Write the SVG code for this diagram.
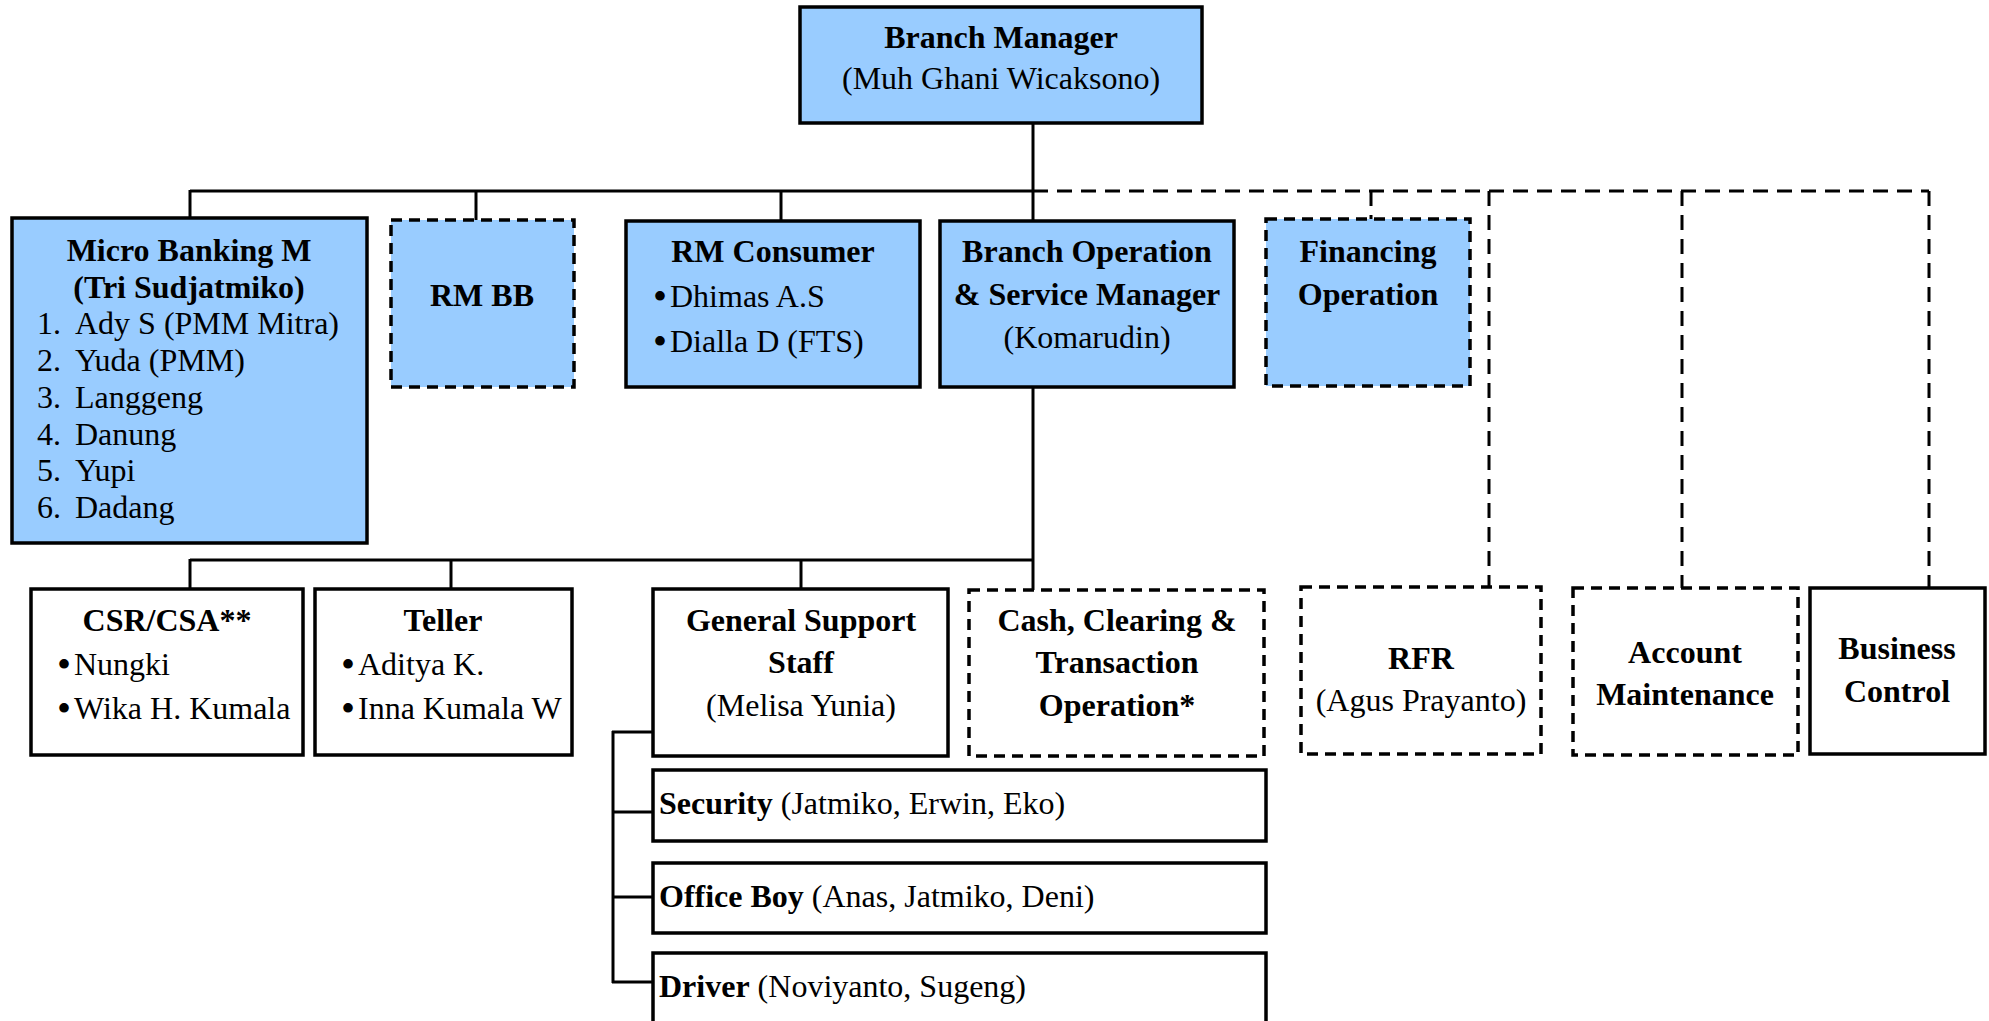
<svg xmlns="http://www.w3.org/2000/svg" width="1989" height="1021" viewBox="0 0 1989 1021">
  <style>
    text { font-family: "Liberation Serif", "Times New Roman", serif; font-size: 32px; fill: #000; }
    .b { font-weight: bold; }
    .c { text-anchor: middle; }
    .bul { font-size: 40px; }
    .box { stroke: #000; stroke-width: 3.5; }
    .blue { fill: #99CCFF; }
    .white { fill: #FFFFFF; }
    .dash { stroke-dasharray: 11 7; }
    .line { stroke: #000; stroke-width: 3; fill: none; }
    .dline { stroke: #000; stroke-width: 3; fill: none; stroke-dasharray: 15 9; }
  </style>

  <!-- connectors -->
  <g id="connectors">
    <!-- top tier: solid reporting lines -->
    <line class="line" x1="1033" y1="123" x2="1033" y2="221"/>
    <line class="line" x1="190" y1="191" x2="1033" y2="191"/>
    <line class="line" x1="190" y1="190" x2="190" y2="218"/>
    <line class="line" x1="476" y1="190" x2="476" y2="220"/>
    <line class="line" x1="781" y1="190" x2="781" y2="221"/>
    <!-- top tier: dotted (functional) lines -->
    <line class="dline" x1="1033" y1="191" x2="1929" y2="191"/>
    <line class="dline" x1="1371" y1="191" x2="1371" y2="219" stroke-dasharray="12 6"/>
    <line class="dline" x1="1489" y1="191" x2="1489" y2="587"/>
    <line class="dline" x1="1682" y1="191" x2="1682" y2="588"/>
    <line class="dline" x1="1929" y1="191" x2="1929" y2="588"/>
    <!-- second tier under operation manager -->
    <line class="line" x1="1033" y1="387" x2="1033" y2="590"/>
    <line class="line" x1="190" y1="560" x2="1033" y2="560"/>
    <line class="line" x1="190" y1="559" x2="190" y2="589"/>
    <line class="line" x1="451" y1="559" x2="451" y2="589"/>
    <line class="line" x1="801" y1="559" x2="801" y2="589"/>
    <!-- general support bracket -->
    <line class="line" x1="613" y1="731" x2="613" y2="983"/>
    <line class="line" x1="612" y1="732" x2="653" y2="732"/>
    <line class="line" x1="612" y1="812" x2="653" y2="812"/>
    <line class="line" x1="612" y1="897" x2="653" y2="897"/>
    <line class="line" x1="612" y1="982" x2="653" y2="982"/>
  </g>

  <!-- Branch Manager -->
  <g id="branch-manager">
    <rect class="box blue" x="800" y="7" width="402" height="116"/>
    <text class="b c" x="1001" y="48">Branch Manager</text>
    <text class="c" x="1001" y="89">(Muh Ghani Wicaksono)</text>
  </g>

  <!-- Micro Banking -->
  <g id="micro-banking">
    <rect class="box blue" x="12" y="218" width="355" height="325"/>
    <text class="b c" x="189" y="261">Micro Banking M</text>
    <text class="b c" x="189" y="298">(Tri Sudjatmiko)</text>
    <text x="37" y="334">1.</text><text x="75" y="334">Ady S (PMM Mitra)</text>
    <text x="37" y="371">2.</text><text x="75" y="371">Yuda (PMM)</text>
    <text x="37" y="408">3.</text><text x="75" y="408">Langgeng</text>
    <text x="37" y="445">4.</text><text x="75" y="445">Danung</text>
    <text x="37" y="481">5.</text><text x="75" y="481">Yupi</text>
    <text x="37" y="518">6.</text><text x="75" y="518">Dadang</text>
  </g>

  <!-- RM BB -->
  <g id="rm-bb">
    <rect class="box blue dash" x="391" y="220" width="183" height="167"/>
    <text class="b c" x="482" y="306">RM BB</text>
  </g>

  <!-- RM Consumer -->
  <g id="rm-consumer">
    <rect class="box blue" x="626" y="221" width="294" height="166"/>
    <text class="b c" x="773" y="262">RM Consumer</text>
    <text class="bul" x="653" y="310">•</text><text x="670" y="307">Dhimas A.S</text>
    <text class="bul" x="653" y="355">•</text><text x="670" y="352">Dialla D (FTS)</text>
  </g>

  <!-- Branch Operation & Service Manager -->
  <g id="bosm">
    <rect class="box blue" x="940" y="221" width="294" height="166"/>
    <text class="b c" x="1087" y="262">Branch Operation</text>
    <text class="b c" x="1087" y="305">&amp; Service Manager</text>
    <text class="c" x="1087" y="348">(Komarudin)</text>
  </g>

  <!-- Financing Operation -->
  <g id="financing-operation">
    <rect class="box blue dash" x="1266" y="219" width="204" height="167"/>
    <text class="b c" x="1368" y="262">Financing</text>
    <text class="b c" x="1368" y="305">Operation</text>
  </g>

  <!-- CSR / CSA -->
  <g id="csr-csa">
    <rect class="box white" x="31" y="589" width="272" height="166"/>
    <text class="b c" x="167" y="631">CSR/CSA**</text>
    <text class="bul" x="57" y="678">•</text><text x="74" y="675">Nungki</text>
    <text class="bul" x="57" y="722">•</text><text x="74" y="719">Wika H. Kumala</text>
  </g>

  <!-- Teller -->
  <g id="teller">
    <rect class="box white" x="315" y="589" width="257" height="166"/>
    <text class="b c" x="443" y="631">Teller</text>
    <text class="bul" x="341" y="678">•</text><text x="358" y="675">Aditya K.</text>
    <text class="bul" x="341" y="722">•</text><text x="358" y="719">Inna Kumala W</text>
  </g>

  <!-- General Support Staff -->
  <g id="general-support">
    <rect class="box white" x="653" y="589" width="295" height="167"/>
    <text class="b c" x="801" y="631">General Support</text>
    <text class="b c" x="801" y="673">Staff</text>
    <text class="c" x="801" y="716">(Melisa Yunia)</text>
  </g>

  <!-- Cash, Clearing & Transaction Operation -->
  <g id="cash-clearing">
    <rect class="box white dash" x="969" y="590" width="295" height="166"/>
    <text class="b c" x="1117" y="631">Cash, Clearing &amp;</text>
    <text class="b c" x="1117" y="673">Transaction</text>
    <text class="b c" x="1117" y="716">Operation*</text>
  </g>

  <!-- RFR -->
  <g id="rfr">
    <rect class="box white dash" x="1301" y="587" width="240" height="167"/>
    <text class="b c" x="1421" y="669">RFR</text>
    <text class="c" x="1421" y="711">(Agus Prayanto)</text>
  </g>

  <!-- Account Maintenance -->
  <g id="account-maintenance">
    <rect class="box white dash" x="1573" y="588" width="225" height="167"/>
    <text class="b c" x="1685" y="663">Account</text>
    <text class="b c" x="1685" y="705">Maintenance</text>
  </g>

  <!-- Business Control -->
  <g id="business-control">
    <rect class="box white" x="1810" y="588" width="175" height="166"/>
    <text class="b c" x="1897" y="659">Business</text>
    <text class="b c" x="1897" y="702">Control</text>
  </g>

  <!-- Security -->
  <g id="security">
    <rect class="box white" x="653" y="770" width="613" height="71"/>
    <text x="659" y="814"><tspan class="b">Security</tspan> (Jatmiko, Erwin, Eko)</text>
  </g>

  <!-- Office Boy -->
  <g id="office-boy">
    <rect class="box white" x="653" y="863" width="613" height="70"/>
    <text x="659" y="907"><tspan class="b">Office Boy</tspan> (Anas, Jatmiko, Deni)</text>
  </g>

  <!-- Driver -->
  <g id="driver">
    <rect class="box white" x="653" y="953" width="613" height="80"/>
    <text x="659" y="997"><tspan class="b">Driver</tspan> (Noviyanto, Sugeng)</text>
  </g>
</svg>
